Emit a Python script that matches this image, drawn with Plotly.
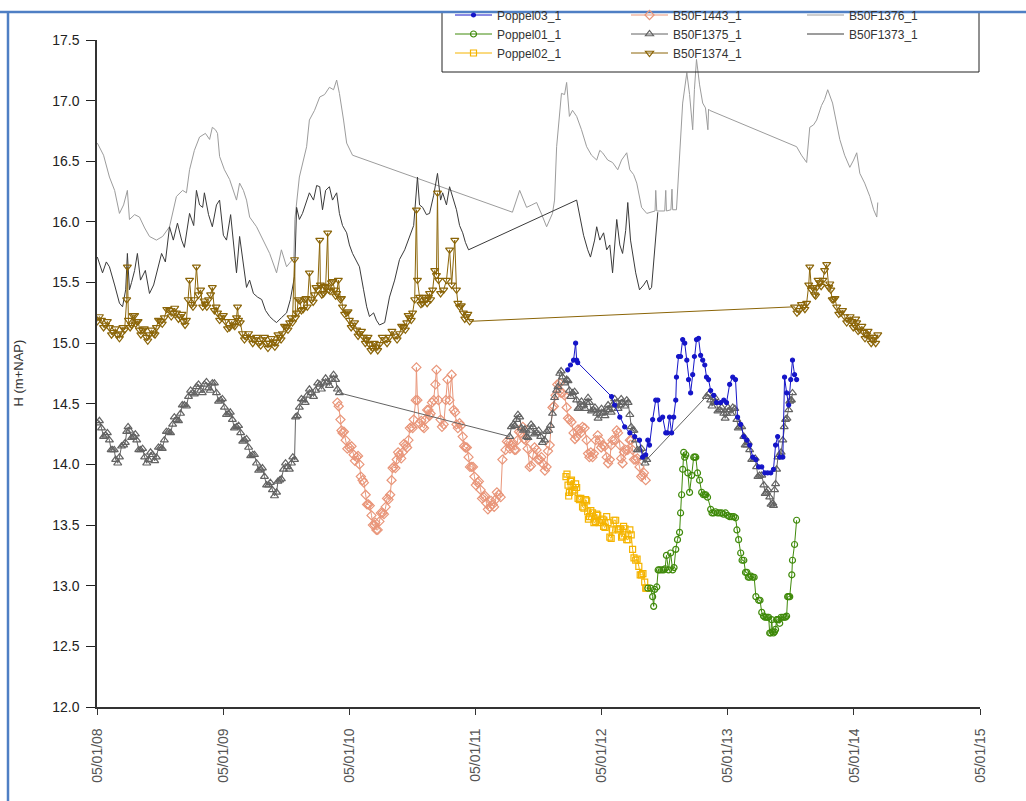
import plotly.graph_objects as go

# ---- groundwater heads H (m+NAP) per monitoring well: (date, head) ----
b50f1376 = [
    ("2008-01-06", 16.65), ("2008-01-24", 16.55), ("2008-02-10", 16.37), ("2008-02-25", 16.26),
    ("2008-03-10", 16.07), ("2008-03-22", 16.14), ("2008-04-02", 16.26), ("2008-04-08", 16.02),
    ("2008-04-23", 16.06), ("2008-05-07", 16.04), ("2008-05-22", 15.95), ("2008-06-05", 15.88),
    ("2008-06-25", 15.85), ("2008-07-13", 15.88), ("2008-08-02", 15.96), ("2008-08-22", 16.21),
    ("2008-09-09", 16.26), ("2008-09-20", 16.24), ("2008-09-29", 16.43), ("2008-10-13", 16.59),
    ("2008-10-28", 16.70), ("2008-11-14", 16.73), ("2008-11-26", 16.68), ("2008-12-04", 16.78),
    ("2008-12-13", 16.76), ("2008-12-19", 16.73), ("2008-12-25", 16.54), ("2009-01-08", 16.43),
    ("2009-01-23", 16.35), ("2009-02-12", 16.18), ("2009-02-21", 16.32), ("2009-03-04", 16.26),
    ("2009-03-13", 16.18), ("2009-03-22", 16.04), ("2009-04-11", 15.96), ("2009-04-29", 15.85),
    ("2009-05-19", 15.74), ("2009-06-08", 15.58), ("2009-06-22", 15.77), ("2009-07-07", 15.63),
    ("2009-07-24", 15.69), ("2009-07-28", 15.69), ("2009-07-31", 16.02), ("2009-08-13", 16.37),
    ("2009-08-25", 16.51), ("2009-09-03", 16.62), ("2009-09-11", 16.84), ("2009-09-26", 16.92),
    ("2009-10-11", 17.03), ("2009-10-25", 17.05), ("2009-11-08", 17.11), ("2009-11-20", 17.09),
    ("2009-11-29", 17.17), ("2009-12-07", 17.06), ("2009-12-19", 16.84), ("2009-12-28", 16.65),
    ("2010-01-14", 16.55),
    ("2011-04-22", 16.08), ("2011-05-13", 16.26), ("2011-05-24", 16.18), ("2011-06-02", 16.12),
    ("2011-06-17", 16.14), ("2011-07-01", 16.16), ("2011-07-16", 16.06), ("2011-07-30", 15.96),
    ("2011-08-16", 16.07), ("2011-08-22", 16.18), ("2011-08-28", 16.62), ("2011-09-06", 16.92),
    ("2011-09-11", 17.06), ("2011-09-20", 17.05), ("2011-09-26", 17.15), ("2011-10-04", 16.87),
    ("2011-10-13", 16.92), ("2011-10-25", 16.87), ("2011-11-08", 16.76), ("2011-11-23", 16.62),
    ("2011-12-07", 16.55), ("2011-12-22", 16.51), ("2011-12-31", 16.59), ("2012-01-08", 16.57),
    ("2012-01-23", 16.51), ("2012-02-06", 16.49), ("2012-02-21", 16.43), ("2012-03-03", 16.51),
    ("2012-03-18", 16.57), ("2012-03-27", 16.43), ("2012-04-07", 16.39), ("2012-04-16", 16.32),
    ("2012-04-24", 16.22), ("2012-04-30", 16.12), ("2012-05-15", 16.07), ("2012-05-29", 16.08),
    ("2012-06-08", 16.09), ("2012-06-10", 16.26), ("2012-06-13", 16.09), ("2012-07-06", 16.09),
    ("2012-07-09", 16.26), ("2012-07-11", 16.09), ("2012-07-24", 16.10), ("2012-07-27", 16.27),
    ("2012-07-29", 16.10), ("2012-08-09", 16.10), ("2012-08-18", 16.57), ("2012-08-27", 16.98),
    ("2012-09-08", 17.23), ("2012-09-16", 17.05), ("2012-09-25", 16.76), ("2012-09-30", 17.09),
    ("2012-10-06", 17.34), ("2012-10-15", 17.13), ("2012-10-24", 16.98), ("2012-11-01", 16.94),
    ("2012-11-08", 16.76), ("2012-11-10", 16.93), ("2012-11-13", 16.92),
    ("2013-07-23", 16.62), ("2013-08-06", 16.55), ("2013-08-21", 16.49), ("2013-08-30", 16.78),
    ("2013-09-10", 16.80), ("2013-09-19", 16.84), ("2013-10-03", 16.96), ("2013-10-12", 17.01),
    ("2013-10-21", 17.09), ("2013-11-04", 16.98), ("2013-11-16", 16.80), ("2013-11-25", 16.68),
    ("2013-12-09", 16.55), ("2013-12-24", 16.45), ("2014-01-04", 16.51), ("2014-01-13", 16.57),
    ("2014-01-22", 16.40), ("2014-02-05", 16.32), ("2014-02-20", 16.21), ("2014-03-03", 16.10),
    ("2014-03-12", 16.04), ("2014-03-15", 16.16),
]

b50f1373 = [
    ("2008-01-06", 15.71), ("2008-01-21", 15.58), ("2008-02-01", 15.67), ("2008-02-10", 15.63),
    ("2008-02-25", 15.48), ("2008-03-10", 15.33), ("2008-03-19", 15.30), ("2008-03-28", 15.44),
    ("2008-04-02", 15.74), ("2008-04-08", 15.44), ("2008-04-14", 15.50), ("2008-04-23", 15.60),
    ("2008-05-01", 15.74), ("2008-05-10", 15.52), ("2008-05-24", 15.60), ("2008-06-05", 15.41),
    ("2008-06-17", 15.48), ("2008-06-25", 15.58), ("2008-07-10", 15.74), ("2008-07-21", 15.67),
    ("2008-08-02", 15.96), ("2008-08-13", 15.85), ("2008-08-25", 15.99), ("2008-09-06", 15.85),
    ("2008-09-14", 15.79), ("2008-09-29", 16.07), ("2008-10-11", 15.97), ("2008-10-19", 16.26),
    ("2008-10-28", 16.14), ("2008-11-06", 16.12), ("2008-11-11", 16.24), ("2008-11-23", 16.06),
    ("2008-12-04", 15.96), ("2008-12-16", 16.14), ("2008-12-25", 16.18), ("2009-01-05", 15.89),
    ("2009-01-14", 15.85), ("2009-01-26", 16.06), ("2009-02-03", 15.81), ("2009-02-12", 15.58),
    ("2009-02-21", 15.88), ("2009-03-04", 15.65), ("2009-03-13", 15.46), ("2009-03-22", 15.52),
    ("2009-04-02", 15.41), ("2009-04-14", 15.38), ("2009-04-26", 15.36), ("2009-05-07", 15.27),
    ("2009-05-19", 15.22), ("2009-05-30", 15.19), ("2009-06-08", 15.17), ("2009-06-22", 15.21),
    ("2009-07-07", 15.25), ("2009-07-18", 15.36), ("2009-07-30", 15.55), ("2009-08-05", 16.12),
    ("2009-08-13", 16.02), ("2009-08-22", 16.07), ("2009-09-03", 16.18), ("2009-09-11", 16.24),
    ("2009-09-23", 16.18), ("2009-10-02", 16.30), ("2009-10-11", 16.29), ("2009-10-19", 16.10),
    ("2009-10-28", 16.26), ("2009-11-08", 16.29), ("2009-11-17", 16.18), ("2009-11-29", 16.24),
    ("2009-12-07", 16.07), ("2009-12-16", 15.97), ("2009-12-28", 15.91), ("2010-01-05", 15.81),
    ("2010-01-14", 15.74), ("2010-01-26", 15.67), ("2010-02-03", 15.63), ("2010-02-15", 15.44),
    ("2010-02-24", 15.30), ("2010-03-04", 15.22), ("2010-03-16", 15.25), ("2010-03-24", 15.19),
    ("2010-04-02", 15.15), ("2010-04-17", 15.17), ("2010-05-01", 15.38), ("2010-05-16", 15.52),
    ("2010-05-30", 15.69), ("2010-06-14", 15.77), ("2010-06-28", 15.88), ("2010-07-10", 15.97),
    ("2010-07-21", 16.37), ("2010-07-27", 16.14), ("2010-08-05", 16.12), ("2010-08-16", 16.06),
    ("2010-08-25", 16.07), ("2010-09-06", 16.22), ("2010-09-17", 16.40), ("2010-09-26", 16.18),
    ("2010-10-02", 16.24), ("2010-10-13", 16.14), ("2010-10-22", 16.29), ("2010-11-03", 16.18),
    ("2010-11-11", 16.10), ("2010-11-20", 15.97), ("2010-11-29", 15.91), ("2010-12-07", 15.83),
    ("2010-12-16", 15.77),
    ("2011-10-25", 16.18), ("2011-11-02", 16.07), ("2011-11-14", 15.89), ("2011-11-26", 15.77),
    ("2011-12-04", 15.71), ("2011-12-16", 15.85), ("2011-12-22", 15.96), ("2011-12-31", 15.85),
    ("2012-01-11", 15.91), ("2012-01-20", 15.77), ("2012-01-29", 15.81), ("2012-02-06", 15.58),
    ("2012-02-12", 15.77), ("2012-02-18", 16.02), ("2012-02-27", 15.81), ("2012-03-06", 15.74),
    ("2012-03-15", 15.93), ("2012-03-21", 16.16), ("2012-03-29", 15.85), ("2012-04-04", 15.74),
    ("2012-04-13", 15.58), ("2012-04-24", 15.44), ("2012-05-06", 15.48), ("2012-05-15", 15.52),
    ("2012-05-23", 15.44), ("2012-05-29", 15.46), ("2012-06-07", 15.77), ("2012-06-13", 15.91),
    ("2012-06-16", 16.08),
]

b50f1374 = [
    ("2008-01-06", 15.18), ("2008-01-18", 15.19), ("2008-01-30", 15.15), ("2008-02-10", 15.13),
    ("2008-02-22", 15.09), ("2008-03-04", 15.07), ("2008-03-16", 15.08), ("2008-03-25", 15.11),
    ("2008-03-31", 15.36), ("2008-04-02", 15.63), ("2008-04-05", 15.19), ("2008-04-14", 15.15),
    ("2008-04-23", 15.23), ("2008-04-29", 15.18), ("2008-05-07", 15.11), ("2008-05-16", 15.11),
    ("2008-05-27", 15.05), ("2008-06-05", 15.07), ("2008-06-17", 15.08), ("2008-06-25", 15.13),
    ("2008-07-07", 15.18), ("2008-07-18", 15.21), ("2008-08-02", 15.27), ("2008-08-13", 15.25),
    ("2008-08-22", 15.25), ("2008-09-03", 15.22), ("2008-09-11", 15.18), ("2008-09-20", 15.19),
    ("2008-09-25", 15.36), ("2008-09-29", 15.52), ("2008-10-05", 15.32), ("2008-10-13", 15.36),
    ("2008-10-19", 15.63), ("2008-10-25", 15.40), ("2008-10-31", 15.44), ("2008-11-06", 15.30),
    ("2008-11-14", 15.32), ("2008-11-23", 15.36), ("2008-11-29", 15.40), ("2008-12-04", 15.46),
    ("2008-12-10", 15.27), ("2008-12-19", 15.25), ("2008-12-31", 15.21), ("2009-01-11", 15.18),
    ("2009-01-23", 15.13), ("2009-02-03", 15.15), ("2009-02-12", 15.21), ("2009-02-15", 15.30),
    ("2009-02-18", 15.19), ("2009-03-01", 15.08), ("2009-03-13", 15.05), ("2009-03-25", 15.04),
    ("2009-04-05", 15.03), ("2009-04-17", 15.00), ("2009-04-29", 15.03), ("2009-05-10", 15.00),
    ("2009-05-19", 15.00), ("2009-05-30", 15.01), ("2009-06-08", 15.01), ("2009-06-17", 15.05),
    ("2009-06-25", 15.08), ("2009-07-07", 15.13), ("2009-07-16", 15.17), ("2009-07-24", 15.17),
    ("2009-07-30", 15.69), ("2009-08-02", 15.21), ("2009-08-10", 15.36), ("2009-08-19", 15.27),
    ("2009-08-28", 15.36), ("2009-09-05", 15.30), ("2009-09-11", 15.58), ("2009-09-17", 15.36),
    ("2009-09-26", 15.40), ("2009-10-05", 15.44), ("2009-10-11", 15.85), ("2009-10-13", 15.48),
    ("2009-10-22", 15.41), ("2009-10-28", 15.46), ("2009-11-03", 15.91), ("2009-11-06", 15.44),
    ("2009-11-14", 15.50), ("2009-11-23", 15.44), ("2009-11-29", 15.41), ("2009-12-04", 15.52),
    ("2009-12-10", 15.36), ("2009-12-16", 15.30), ("2009-12-28", 15.25), ("2010-01-05", 15.19),
    ("2010-01-14", 15.15), ("2010-01-26", 15.11), ("2010-02-03", 15.08), ("2010-02-15", 15.05),
    ("2010-02-24", 15.03), ("2010-03-04", 14.99), ("2010-03-13", 14.96), ("2010-03-24", 14.97),
    ("2010-04-02", 14.99), ("2010-04-17", 15.03), ("2010-05-01", 15.05), ("2010-05-16", 15.06),
    ("2010-05-30", 15.08), ("2010-06-11", 15.13), ("2010-06-20", 15.17), ("2010-06-28", 15.21),
    ("2010-07-07", 15.25), ("2010-07-13", 15.36), ("2010-07-18", 16.10), ("2010-07-21", 15.52),
    ("2010-07-27", 15.38), ("2010-08-05", 15.33), ("2010-08-13", 15.36), ("2010-08-22", 15.38),
    ("2010-08-28", 15.36), ("2010-09-03", 15.44), ("2010-09-09", 15.60), ("2010-09-14", 15.56),
    ("2010-09-17", 16.24), ("2010-09-20", 15.52), ("2010-09-26", 15.41), ("2010-10-05", 15.44),
    ("2010-10-13", 15.52), ("2010-10-22", 15.77), ("2010-10-28", 15.48), ("2010-11-06", 15.85),
    ("2010-11-11", 15.44), ("2010-11-20", 15.30), ("2010-12-01", 15.25), ("2010-12-10", 15.22),
    ("2010-12-19", 15.18),
    ("2013-07-17", 15.30), ("2013-07-31", 15.27), ("2013-08-12", 15.30), ("2013-08-21", 15.33),
    ("2013-08-27", 15.48), ("2013-08-30", 15.63), ("2013-09-04", 15.44), ("2013-09-13", 15.40),
    ("2013-09-19", 15.46), ("2013-09-28", 15.50), ("2013-10-07", 15.52), ("2013-10-12", 15.60),
    ("2013-10-18", 15.65), ("2013-10-24", 15.46), ("2013-10-30", 15.44), ("2013-11-07", 15.36),
    ("2013-11-16", 15.30), ("2013-11-28", 15.25), ("2013-12-09", 15.22), ("2013-12-21", 15.19),
    ("2013-12-29", 15.18), ("2014-01-07", 15.15), ("2014-01-13", 15.17), ("2014-01-22", 15.11),
    ("2014-02-02", 15.09), ("2014-02-11", 15.07), ("2014-02-20", 15.05), ("2014-02-28", 15.03),
    ("2014-03-09", 15.00), ("2014-03-15", 15.07),
]
# intermediate readings (daily scatter around the weekly values)
b50f1374_between = [
    ("2008-01-12", 15.22), ("2008-01-24", 15.13), ("2008-02-04", 15.18), ("2008-02-16", 15.07),
    ("2008-02-27", 15.12), ("2008-03-10", 15.04), ("2008-03-20", 15.13), ("2008-04-10", 15.13),
    ("2008-04-18", 15.23), ("2008-04-26", 15.16), ("2008-05-03", 15.18), ("2008-05-11", 15.07),
    ("2008-05-21", 15.12), ("2008-05-31", 15.02), ("2008-06-11", 15.11), ("2008-06-21", 15.07),
    ("2008-07-01", 15.19), ("2008-07-12", 15.16), ("2008-07-25", 15.28), ("2008-08-07", 15.22),
    ("2008-08-17", 15.29), ("2008-08-28", 15.20), ("2008-09-07", 15.24), ("2008-09-16", 15.15),
    ("2008-10-09", 15.30), ("2008-11-10", 15.35), ("2008-11-18", 15.30), ("2008-12-15", 15.30),
    ("2008-12-25", 15.19), ("2009-01-05", 15.23), ("2009-01-17", 15.12), ("2009-01-29", 15.18),
    ("2009-02-07", 15.14), ("2009-02-23", 15.17), ("2009-03-07", 15.03), ("2009-03-19", 15.08),
    ("2009-03-31", 15.00), ("2009-04-11", 15.05), ("2009-04-23", 14.98), ("2009-05-04", 15.05),
    ("2009-05-14", 14.96), ("2009-05-24", 15.04), ("2009-06-03", 14.97), ("2009-06-12", 15.07),
    ("2009-06-21", 15.03), ("2009-07-01", 15.14), ("2009-07-11", 15.11), ("2009-07-20", 15.21),
    ("2009-08-06", 15.25), ("2009-08-15", 15.35), ("2009-08-24", 15.28), ("2009-09-01", 15.37),
    ("2009-09-22", 15.34), ("2009-09-30", 15.46), ("2009-10-17", 15.40), ("2009-10-25", 15.47),
    ("2009-11-10", 15.43), ("2009-11-18", 15.51), ("2009-11-26", 15.39), ("2009-12-13", 15.37),
    ("2009-12-22", 15.24), ("2010-01-01", 15.26), ("2010-01-10", 15.13), ("2010-01-20", 15.17),
    ("2010-01-30", 15.06), ("2010-02-09", 15.10), ("2010-02-20", 15.00), ("2010-02-28", 15.05),
    ("2010-03-08", 14.94), ("2010-03-18", 15.00), ("2010-03-28", 14.94), ("2010-04-10", 15.05),
    ("2010-04-24", 15.00), ("2010-05-08", 15.10), ("2010-05-23", 15.03), ("2010-06-05", 15.14),
    ("2010-06-16", 15.11), ("2010-06-24", 15.23), ("2010-07-03", 15.19), ("2010-07-31", 15.32),
    ("2010-08-09", 15.38), ("2010-08-18", 15.33), ("2010-08-25", 15.41), ("2010-11-15", 15.33),
    ("2010-11-25", 15.31), ("2010-12-05", 15.20), ("2010-12-14", 15.24),
    ("2013-07-24", 15.25), ("2013-08-06", 15.32), ("2013-08-16", 15.28), ("2013-09-08", 15.46),
    ("2013-09-16", 15.39), ("2013-09-23", 15.52), ("2013-10-02", 15.47), ("2013-10-27", 15.49),
    ("2013-11-03", 15.36), ("2013-11-11", 15.37), ("2013-11-22", 15.24), ("2013-12-03", 15.27),
    ("2013-12-15", 15.17), ("2013-12-25", 15.22), ("2014-01-03", 15.13), ("2014-01-10", 15.20),
    ("2014-01-17", 15.10), ("2014-01-28", 15.14), ("2014-02-06", 15.04), ("2014-02-15", 15.10),
    ("2014-02-24", 15.00), ("2014-03-04", 15.05),
]

b50f1375 = [
    ("2008-01-06", 14.34), ("2008-01-18", 14.30), ("2008-01-30", 14.24), ("2008-02-10", 14.20),
    ("2008-02-19", 14.12), ("2008-02-28", 14.04), ("2008-03-10", 14.06), ("2008-03-22", 14.16),
    ("2008-03-31", 14.27), ("2008-04-08", 14.28), ("2008-04-20", 14.23), ("2008-04-29", 14.20),
    ("2008-05-10", 14.12), ("2008-05-22", 14.06), ("2008-06-02", 14.04), ("2008-06-14", 14.08),
    ("2008-06-25", 14.06), ("2008-07-07", 14.14), ("2008-07-18", 14.20), ("2008-07-30", 14.27),
    ("2008-08-11", 14.33), ("2008-08-22", 14.37), ("2008-09-03", 14.42), ("2008-09-14", 14.49),
    ("2008-09-26", 14.56), ("2008-10-08", 14.59), ("2008-10-19", 14.64), ("2008-10-31", 14.61),
    ("2008-11-11", 14.66), ("2008-11-23", 14.63), ("2008-12-04", 14.67), ("2008-12-16", 14.59),
    ("2008-12-28", 14.53), ("2009-01-08", 14.47), ("2009-01-20", 14.42), ("2009-01-31", 14.37),
    ("2009-02-12", 14.31), ("2009-02-24", 14.26), ("2009-03-07", 14.20), ("2009-03-19", 14.14),
    ("2009-03-31", 14.08), ("2009-04-11", 14.01), ("2009-04-23", 13.96), ("2009-05-04", 13.90),
    ("2009-05-16", 13.83), ("2009-05-27", 13.79), ("2009-06-08", 13.77), ("2009-06-17", 13.87),
    ("2009-06-28", 13.96), ("2009-07-10", 13.98), ("2009-07-21", 14.01), ("2009-07-30", 14.04),
    ("2009-08-02", 14.39), ("2009-08-13", 14.47), ("2009-08-25", 14.53), ("2009-09-05", 14.57),
    ("2009-09-17", 14.59), ("2009-09-29", 14.61), ("2009-10-11", 14.66), ("2009-10-22", 14.67),
    ("2009-11-03", 14.68), ("2009-11-14", 14.70), ("2009-11-26", 14.70), ("2009-12-07", 14.59),
    ("2011-04-14", 14.23), ("2011-04-25", 14.33), ("2011-05-04", 14.37), ("2011-05-13", 14.39),
    ("2011-05-24", 14.28), ("2011-06-02", 14.23), ("2011-06-11", 14.28), ("2011-06-20", 14.31),
    ("2011-07-01", 14.26), ("2011-07-13", 14.23), ("2011-07-24", 14.20), ("2011-08-05", 14.28),
    ("2011-08-16", 14.42), ("2011-08-28", 14.61), ("2011-09-06", 14.75), ("2011-09-14", 14.72),
    ("2011-09-26", 14.70), ("2011-10-04", 14.61), ("2011-10-13", 14.59), ("2011-10-25", 14.53),
    ("2011-11-02", 14.47), ("2011-11-14", 14.49), ("2011-11-23", 14.51), ("2011-12-01", 14.51),
    ("2011-12-13", 14.45), ("2011-12-22", 14.42), ("2011-12-31", 14.42), ("2012-01-11", 14.43),
    ("2012-01-20", 14.45), ("2012-01-29", 14.45), ("2012-02-06", 14.49), ("2012-02-18", 14.51),
    ("2012-02-27", 14.49), ("2012-03-06", 14.51), ("2012-03-18", 14.53), ("2012-03-27", 14.41),
    ("2012-04-04", 14.28), ("2012-04-13", 14.20), ("2012-04-24", 14.12), ("2012-05-06", 14.06),
    ("2012-05-15", 14.04),
    ("2012-11-04", 14.56), ("2012-11-16", 14.53), ("2012-11-25", 14.51), ("2012-12-03", 14.51),
    ("2012-12-12", 14.45), ("2012-12-24", 14.42), ("2013-01-01", 14.42), ("2013-01-10", 14.45),
    ("2013-01-19", 14.47), ("2013-01-31", 14.37), ("2013-02-08", 14.31), ("2013-02-20", 14.23),
    ("2013-03-01", 14.16), ("2013-03-09", 14.12), ("2013-03-21", 14.04), ("2013-03-29", 13.98),
    ("2013-04-07", 13.91), ("2013-04-19", 13.83), ("2013-04-27", 13.77), ("2013-05-06", 13.73),
    ("2013-05-15", 13.68), ("2013-05-20", 13.79), ("2013-05-26", 13.96), ("2013-06-04", 14.08),
    ("2013-06-13", 14.20), ("2013-06-21", 14.37), ("2013-06-30", 14.45), ("2013-07-06", 14.53),
    ("2013-07-11", 14.59),
]
b50f1375_between = [
    ("2008-01-12", 14.36), ("2008-01-24", 14.23), ("2008-02-04", 14.26), ("2008-02-15", 14.12),
    ("2008-02-24", 14.12), ("2008-03-05", 14.01), ("2008-03-16", 14.15), ("2008-03-27", 14.18),
    ("2008-04-04", 14.31), ("2008-04-14", 14.22), ("2008-04-25", 14.25), ("2008-05-05", 14.12),
    ("2008-05-16", 14.13), ("2008-05-28", 14.01), ("2008-06-08", 14.10), ("2008-06-20", 14.03),
    ("2008-07-01", 14.14), ("2008-07-12", 14.13), ("2008-07-24", 14.27), ("2008-08-05", 14.26),
    ("2008-08-16", 14.39), ("2008-08-28", 14.36), ("2008-09-08", 14.49), ("2008-09-20", 14.48),
    ("2008-10-02", 14.61), ("2008-10-13", 14.58), ("2008-10-25", 14.66), ("2008-11-05", 14.59),
    ("2008-11-17", 14.68), ("2008-11-28", 14.61), ("2008-12-10", 14.67), ("2008-12-22", 14.52),
    ("2009-01-02", 14.54), ("2009-01-14", 14.41), ("2009-01-25", 14.43), ("2009-02-06", 14.30),
    ("2009-02-18", 14.32), ("2009-03-02", 14.19), ("2009-03-13", 14.21), ("2009-03-25", 14.07),
    ("2009-04-05", 14.08), ("2009-04-17", 13.95), ("2009-04-28", 13.97), ("2009-05-10", 13.83),
    ("2009-05-21", 13.85), ("2009-06-02", 13.74), ("2009-06-12", 13.86), ("2009-06-22", 13.88),
    ("2009-07-04", 14.01), ("2009-07-15", 13.96), ("2009-07-25", 14.06), ("2009-08-07", 14.40),
    ("2009-08-19", 14.54), ("2009-08-30", 14.51), ("2009-09-11", 14.62), ("2009-09-23", 14.56),
    ("2009-10-05", 14.67), ("2009-10-16", 14.62), ("2009-10-28", 14.71), ("2009-11-08", 14.65),
    ("2009-11-20", 14.74), ("2009-12-01", 14.62),
    ("2011-04-19", 14.31), ("2011-04-29", 14.32), ("2011-05-08", 14.41), ("2011-05-18", 14.30),
    ("2011-05-28", 14.29), ("2011-06-06", 14.22), ("2011-06-15", 14.33), ("2011-06-25", 14.25),
    ("2011-07-07", 14.28), ("2011-07-18", 14.18), ("2011-07-30", 14.27), ("2011-08-10", 14.32),
    ("2011-08-22", 14.55), ("2011-09-01", 14.64), ("2011-09-10", 14.77), ("2011-09-20", 14.67),
    ("2011-09-30", 14.69), ("2011-10-08", 14.56), ("2011-10-19", 14.60), ("2011-10-29", 14.46),
    ("2011-11-08", 14.52), ("2011-11-18", 14.46), ("2011-11-27", 14.55), ("2011-12-07", 14.44),
    ("2011-12-17", 14.47), ("2011-12-26", 14.38), ("2012-01-05", 14.46), ("2012-01-15", 14.40),
    ("2012-01-24", 14.49), ("2012-02-02", 14.43), ("2012-02-12", 14.54), ("2012-02-22", 14.46),
    ("2012-03-02", 14.54), ("2012-03-12", 14.48), ("2012-03-22", 14.51), ("2012-03-31", 14.31),
    ("2012-04-08", 14.28), ("2012-04-18", 14.12), ("2012-04-30", 14.13), ("2012-05-10", 14.01),
    ("2012-11-10", 14.58), ("2012-11-20", 14.48), ("2012-11-29", 14.55), ("2012-12-07", 14.44),
    ("2012-12-18", 14.47), ("2012-12-28", 14.38), ("2013-01-05", 14.47), ("2013-01-14", 14.42),
    ("2013-01-25", 14.46), ("2013-02-04", 14.30), ("2013-02-14", 14.31), ("2013-02-24", 14.16),
    ("2013-03-05", 14.18), ("2013-03-15", 14.04), ("2013-03-25", 14.05), ("2013-04-02", 13.90),
    ("2013-04-13", 13.91), ("2013-04-23", 13.76), ("2013-05-01", 13.79), ("2013-05-10", 13.67),
    ("2013-05-17", 13.66), ("2013-05-23", 13.84), ("2013-05-30", 14.06), ("2013-06-08", 14.10),
    ("2013-06-17", 14.31), ("2013-06-25", 14.38), ("2013-07-03", 14.52), ("2013-07-08", 14.53),
]

b50f1443 = [
    ("2009-12-01", 14.51), ("2009-12-10", 14.37), ("2009-12-16", 14.26), ("2009-12-25", 14.20),
    ("2010-01-05", 14.14), ("2010-01-17", 14.08), ("2010-01-26", 14.06), ("2010-02-03", 14.00),
    ("2010-02-12", 13.87), ("2010-02-21", 13.75), ("2010-03-01", 13.67), ("2010-03-10", 13.58),
    ("2010-03-19", 13.50), ("2010-03-24", 13.46), ("2010-04-02", 13.53), ("2010-04-11", 13.60),
    ("2010-04-20", 13.65), ("2010-04-28", 13.71), ("2010-05-07", 13.87), ("2010-05-13", 13.98),
    ("2010-05-22", 14.04), ("2010-05-30", 14.08), ("2010-06-08", 14.10), ("2010-06-17", 14.16),
    ("2010-06-25", 14.20), ("2010-07-04", 14.31), ("2010-07-10", 14.37), ("2010-07-16", 14.53),
    ("2010-07-18", 14.80), ("2010-07-21", 14.53), ("2010-07-27", 14.34), ("2010-08-05", 14.31),
    ("2010-08-13", 14.37), ("2010-08-22", 14.45), ("2010-08-28", 14.42), ("2010-09-06", 14.53),
    ("2010-09-11", 14.66), ("2010-09-14", 14.78), ("2010-09-20", 14.53), ("2010-09-26", 14.37),
    ("2010-10-05", 14.33), ("2010-10-11", 14.53), ("2010-10-16", 14.70), ("2010-10-22", 14.53),
    ("2010-10-28", 14.74), ("2010-11-03", 14.45), ("2010-11-11", 14.33), ("2010-11-20", 14.34),
    ("2010-11-29", 14.23), ("2010-12-07", 14.14), ("2010-12-16", 14.06), ("2010-12-25", 13.98),
    ("2011-01-02", 13.90), ("2011-01-11", 13.85), ("2011-01-20", 13.79), ("2011-01-29", 13.73),
    ("2011-02-06", 13.68), ("2011-02-15", 13.65), ("2011-02-24", 13.67), ("2011-03-04", 13.71),
    ("2011-03-13", 13.75), ("2011-03-19", 13.73), ("2011-03-24", 14.04), ("2011-04-02", 14.12),
    ("2011-04-11", 14.18), ("2011-04-19", 14.16), ("2011-04-28", 14.12), ("2011-05-07", 14.20),
    ("2011-05-16", 14.26), ("2011-05-22", 14.31), ("2011-05-30", 14.20), ("2011-06-11", 13.98),
    ("2011-06-20", 14.08), ("2011-07-01", 14.12), ("2011-07-10", 14.04), ("2011-07-21", 14.00),
    ("2011-07-30", 13.98), ("2011-08-08", 14.16), ("2011-08-16", 14.47), ("2011-08-25", 14.57),
    ("2011-09-06", 14.67), ("2011-09-14", 14.59), ("2011-09-26", 14.47), ("2011-10-04", 14.37),
    ("2011-10-16", 14.26), ("2011-10-25", 14.23), ("2011-11-02", 14.28), ("2011-11-11", 14.31),
    ("2011-11-23", 14.20), ("2011-12-01", 14.06), ("2011-12-10", 14.06), ("2011-12-19", 14.20),
    ("2011-12-31", 14.20), ("2012-01-08", 14.16), ("2012-01-20", 14.06), ("2012-01-29", 14.04),
    ("2012-02-06", 14.20), ("2012-02-18", 14.28), ("2012-02-27", 14.16), ("2012-03-06", 14.01),
    ("2012-03-15", 14.12), ("2012-03-27", 14.20), ("2012-04-04", 14.12), ("2012-04-13", 14.04),
    ("2012-04-24", 13.98), ("2012-05-03", 13.91), ("2012-05-12", 13.87),
]
b50f1443_between = [
    ("2009-12-05", 14.48), ("2009-12-13", 14.28), ("2009-12-20", 14.27), ("2009-12-30", 14.13),
    ("2010-01-11", 14.15), ("2010-01-21", 14.03), ("2010-01-30", 14.07), ("2010-02-07", 13.90),
    ("2010-02-16", 13.85), ("2010-02-25", 13.67), ("2010-03-05", 13.66), ("2010-03-14", 13.50),
    ("2010-03-21", 13.52), ("2010-03-28", 13.46), ("2010-04-06", 13.60), ("2010-04-15", 13.59),
    ("2010-04-24", 13.72), ("2010-05-03", 13.75), ("2010-05-10", 13.97), ("2010-05-18", 13.97),
    ("2010-05-26", 14.10), ("2010-06-04", 14.05), ("2010-06-12", 14.17), ("2010-06-21", 14.14),
    ("2010-06-29", 14.30), ("2010-07-07", 14.30), ("2010-08-01", 14.36), ("2010-08-09", 14.30),
    ("2010-08-18", 14.45), ("2010-08-25", 14.40), ("2010-09-01", 14.51), ("2010-09-30", 14.31),
    ("2010-11-07", 14.43), ("2010-11-15", 14.30), ("2010-11-24", 14.32), ("2010-12-03", 14.15),
    ("2010-12-11", 14.14), ("2010-12-20", 13.98), ("2010-12-29", 13.98), ("2011-01-06", 13.83),
    ("2011-01-15", 13.86), ("2011-01-24", 13.72), ("2011-02-02", 13.74), ("2011-02-10", 13.63),
    ("2011-02-19", 13.70), ("2011-02-28", 13.65), ("2011-03-08", 13.77), ("2011-04-06", 14.19),
    ("2011-04-15", 14.13), ("2011-04-23", 14.18), ("2011-05-02", 14.12), ("2011-05-11", 14.27),
    ("2011-05-26", 14.21), ("2011-06-05", 14.13), ("2011-06-15", 13.99), ("2011-06-25", 14.14),
    ("2011-07-05", 14.04), ("2011-07-15", 14.06), ("2011-07-25", 13.95), ("2011-08-03", 14.11),
    ("2011-08-20", 14.48), ("2011-08-30", 14.66), ("2011-09-10", 14.59), ("2011-09-20", 14.57),
    ("2011-09-30", 14.38), ("2011-10-10", 14.35), ("2011-10-20", 14.21), ("2011-10-29", 14.29),
    ("2011-11-06", 14.26), ("2011-11-17", 14.30), ("2011-11-27", 14.09), ("2011-12-05", 14.10),
    ("2011-12-14", 14.09), ("2011-12-25", 14.24), ("2012-01-04", 14.14), ("2012-01-14", 14.15),
    ("2012-01-24", 14.01), ("2012-02-02", 14.16), ("2012-02-12", 14.20), ("2012-02-22", 14.26),
    ("2012-03-02", 14.05), ("2012-03-10", 14.10), ("2012-03-21", 14.12), ("2012-03-31", 14.20),
    ("2012-04-08", 14.04), ("2012-04-18", 14.05), ("2012-04-29", 13.90), ("2012-05-07", 13.93),
]

poppel02 = [
    ("2011-09-24", 13.90), ("2011-09-30", 13.83), ("2011-10-04", 13.77), ("2011-10-10", 13.87),
    ("2011-10-19", 13.79), ("2011-10-25", 13.81), ("2011-11-02", 13.71), ("2011-11-11", 13.65),
    ("2011-11-20", 13.71), ("2011-11-26", 13.61), ("2011-12-01", 13.57), ("2011-12-10", 13.60),
    ("2011-12-19", 13.53), ("2011-12-25", 13.58), ("2012-01-03", 13.54), ("2012-01-11", 13.49),
    ("2012-01-20", 13.57), ("2012-01-29", 13.40), ("2012-02-06", 13.46), ("2012-02-15", 13.54),
    ("2012-02-24", 13.46), ("2012-03-03", 13.40), ("2012-03-09", 13.49), ("2012-03-18", 13.38),
    ("2012-03-27", 13.46), ("2012-04-04", 13.30), ("2012-04-13", 13.21), ("2012-04-22", 13.16),
    ("2012-04-30", 13.09), ("2012-05-09", 13.03), ("2012-05-15", 12.98),
]
poppel02_between = [
    ("2011-09-27", 13.92), ("2011-10-02", 13.74), ("2011-10-07", 13.86), ("2011-10-14", 13.78),
    ("2011-10-22", 13.84), ("2011-10-29", 13.72), ("2011-11-06", 13.72), ("2011-11-15", 13.64),
    ("2011-11-23", 13.70), ("2011-11-28", 13.55), ("2011-12-05", 13.62), ("2011-12-14", 13.52),
    ("2011-12-22", 13.59), ("2011-12-29", 13.52), ("2012-01-07", 13.55), ("2012-01-15", 13.48),
    ("2012-01-24", 13.52), ("2012-02-02", 13.39), ("2012-02-10", 13.54), ("2012-02-19", 13.47),
    ("2012-02-28", 13.47), ("2012-03-06", 13.41), ("2012-03-13", 13.47), ("2012-03-22", 13.38),
    ("2012-03-31", 13.42), ("2012-04-08", 13.23), ("2012-04-17", 13.22), ("2012-04-26", 13.09),
    ("2012-05-04", 13.10), ("2012-05-12", 12.98),
]

poppel01 = [
    ("2012-05-18", 12.98), ("2012-05-26", 12.98), ("2012-06-01", 12.91), ("2012-06-04", 12.83),
    ("2012-06-07", 12.97), ("2012-06-13", 12.99), ("2012-06-21", 13.13), ("2012-07-03", 13.13),
    ("2012-07-11", 13.25), ("2012-07-17", 13.13), ("2012-07-23", 13.27), ("2012-07-29", 13.13),
    ("2012-08-07", 13.30), ("2012-08-12", 13.38), ("2012-08-18", 13.44), ("2012-08-21", 13.60),
    ("2012-08-24", 13.75), ("2012-08-27", 13.96), ("2012-08-30", 14.10), ("2012-09-05", 14.08),
    ("2012-09-11", 13.93), ("2012-09-16", 13.77), ("2012-09-22", 13.91), ("2012-09-28", 14.06),
    ("2012-10-04", 14.06), ("2012-10-09", 13.93), ("2012-10-15", 13.87), ("2012-10-21", 13.77),
    ("2012-10-30", 13.75), ("2012-11-07", 13.73), ("2012-11-16", 13.63), ("2012-11-25", 13.60),
    ("2012-12-06", 13.60), ("2012-12-18", 13.60), ("2012-12-29", 13.60), ("2013-01-10", 13.57),
    ("2013-01-22", 13.57), ("2013-01-31", 13.46), ("2013-02-05", 13.38), ("2013-02-11", 13.27),
    ("2013-02-20", 13.21), ("2013-03-01", 13.11), ("2013-03-09", 13.07), ("2013-03-18", 13.07),
    ("2013-03-27", 12.91), ("2013-04-04", 12.88), ("2013-04-13", 12.78), ("2013-04-22", 12.74),
    ("2013-04-30", 12.74), ("2013-05-06", 12.61), ("2013-05-12", 12.72), ("2013-05-17", 12.61),
    ("2013-05-23", 12.64), ("2013-05-29", 12.72), ("2013-06-04", 12.69), ("2013-06-13", 12.74),
    ("2013-06-21", 12.74), ("2013-06-27", 12.91), ("2013-07-03", 12.91), ("2013-07-09", 13.09),
    ("2013-07-11", 13.21), ("2013-07-17", 13.34), ("2013-07-23", 13.54),
]
poppel01_between = [
    ("2012-06-17", 13.13), ("2012-06-27", 13.13), ("2012-07-07", 13.14), ("2012-08-02", 13.15),
    ("2012-09-02", 14.06), ("2012-10-01", 14.06), ("2012-10-26", 13.75), ("2012-11-02", 13.75),
    ("2012-11-20", 13.60), ("2012-11-30", 13.61), ("2012-12-12", 13.60), ("2012-12-23", 13.59),
    ("2013-01-04", 13.58), ("2013-01-16", 13.57), ("2013-01-27", 13.56), ("2013-02-15", 13.21),
    ("2013-02-25", 13.11), ("2013-03-05", 13.07), ("2013-03-13", 13.08), ("2013-03-22", 13.07),
    ("2013-04-08", 12.88), ("2013-04-18", 12.75), ("2013-04-26", 12.74), ("2013-05-03", 12.74),
    ("2013-05-09", 12.61), ("2013-05-14", 12.62), ("2013-05-20", 12.62), ("2013-05-26", 12.72),
    ("2013-06-01", 12.72), ("2013-06-08", 12.74), ("2013-06-17", 12.74), ("2013-06-24", 12.75),
    ("2013-06-30", 12.91),
]

poppel03 = [
    ("2011-09-29", 14.78), ("2011-10-07", 14.82), ("2011-10-16", 14.86), ("2011-10-22", 15.00),
    ("2011-10-25", 14.86), ("2011-10-28", 14.84), ("2012-02-03", 14.56), ("2012-02-12", 14.49),
    ("2012-02-27", 14.39), ("2012-03-12", 14.31), ("2012-03-27", 14.26), ("2012-04-10", 14.23),
    ("2012-04-24", 14.20), ("2012-05-03", 14.06), ("2012-05-12", 14.08), ("2012-05-18", 14.20),
    ("2012-05-23", 14.16), ("2012-06-01", 14.37), ("2012-06-10", 14.53), ("2012-06-16", 14.53),
    ("2012-06-21", 14.37), ("2012-06-30", 14.39), ("2012-07-09", 14.26), ("2012-07-14", 14.26),
    ("2012-07-20", 14.39), ("2012-07-26", 14.26), ("2012-08-01", 14.39), ("2012-08-07", 14.53),
    ("2012-08-09", 14.72), ("2012-08-15", 14.89), ("2012-08-21", 14.89), ("2012-08-27", 15.03),
    ("2012-09-02", 15.00), ("2012-09-08", 14.86), ("2012-09-13", 14.70), ("2012-09-19", 14.59),
    ("2012-09-25", 14.74), ("2012-09-30", 14.89), ("2012-10-06", 15.03), ("2012-10-12", 15.04),
    ("2012-10-18", 14.90), ("2012-10-24", 14.86), ("2012-10-30", 14.82), ("2012-11-04", 14.72),
    ("2012-11-10", 14.70), ("2012-11-16", 14.61), ("2012-11-25", 14.57), ("2012-12-03", 14.51),
    ("2012-12-15", 14.51), ("2012-12-24", 14.53), ("2013-01-01", 14.51), ("2013-01-10", 14.66),
    ("2013-01-19", 14.72), ("2013-01-27", 14.70), ("2013-02-02", 14.39), ("2013-02-11", 14.33),
    ("2013-02-20", 14.23), ("2013-03-01", 14.20), ("2013-03-09", 14.16), ("2013-03-18", 14.06),
    ("2013-03-27", 14.04), ("2013-04-04", 13.98), ("2013-04-13", 13.98), ("2013-04-22", 13.93),
    ("2013-04-30", 13.93), ("2013-05-09", 13.93), ("2013-05-17", 13.96), ("2013-05-23", 14.16),
    ("2013-05-29", 14.23), ("2013-06-04", 14.06), ("2013-06-13", 14.06), ("2013-06-18", 14.72),
    ("2013-06-24", 14.59), ("2013-06-30", 14.49), ("2013-07-06", 14.70), ("2013-07-11", 14.86),
    ("2013-07-17", 14.74), ("2013-07-23", 14.70),
]

# ---- axis ticks ----
x_tick_dates = ["2008-01-05", "2009-01-05", "2010-01-05", "2011-01-05",
                "2012-01-05", "2013-01-05", "2014-01-05", "2015-01-05"]
y_ticks = [12.0, 12.5, 13.0, 13.5, 14.0, 14.5, 15.0, 15.5, 16.0, 16.5, 17.0, 17.5]

FONT = "Liberation Sans, Arial, sans-serif"

# name, readings, colour, marker symbol (None = line only), marker size, legend column, legend rank
series = [
    ("B50F1376_1", b50f1376, "#9c9c9c", None, 0, "c3", 7),
    ("B50F1373_1", b50f1373, "#3a3a3a", None, 0, "c3", 8),
    ("B50F1443_1", b50f1443 + b50f1443_between, "#e9967a", "diamond-open", 7, "c2", 4),
    ("B50F1375_1", b50f1375 + b50f1375_between, "#636363", "triangle-up-open", 7, "c2", 5),
    ("B50F1374_1", b50f1374 + b50f1374_between, "#8b6508", "triangle-down-open", 7, "c2", 6),
    ("Poppel02_1", poppel02 + poppel02_between, "#f5b400", "square-open", 6, "c1", 3),
    ("Poppel01_1", poppel01 + poppel01_between, "#3f8a0a", "circle-open", 6, "c1", 2),
    ("Poppel03_1", poppel03, "#1515c8", "circle", 4, "c1", 1),
]

fig = go.Figure()
for name, readings, color, symbol, msize, group, rank in series:
    dates, heads = zip(*sorted(readings))
    trace = dict(
        x=list(dates), y=list(heads), name=name,
        line=dict(color=color, width=1),
        legendgroup=group, legendrank=rank,
    )
    if symbol is None:
        trace["mode"] = "lines"
    else:
        trace["mode"] = "lines+markers"
        trace["marker"] = dict(symbol=symbol, size=msize, color=color,
                               line=dict(color=color, width=1.2))
    fig.add_trace(go.Scatter(**trace))

# plot area spans x 97..980 px and y 40..707 px of the 1026 x 801 page
L, R, T, B = 97, 46, 40, 94
PW, PH = 1026 - L - R, 801 - T - B


def px(x):
    return (x - L) / PW


def py(y):
    return (T + PH - y) / PH


shapes = [
    # legend frame
    dict(type="rect", xref="paper", yref="paper",
         x0=px(442), x1=px(979), y0=py(72), y1=py(12),
         line=dict(color="#222222", width=1), fillcolor="rgba(0,0,0,0)"),
    # page frame
    dict(type="line", xref="paper", yref="paper",
         x0=px(-20), x1=px(1040), y0=py(12), y1=py(12),
         line=dict(color="#4f7fc4", width=2.5)),
    dict(type="line", xref="paper", yref="paper",
         x0=px(8), x1=px(8), y0=py(12), y1=py(820),
         line=dict(color="#4f7fc4", width=2.5)),
]

fig.update_layout(
    width=1026, height=801,
    margin=dict(l=L, r=R, t=T, b=B, autoexpand=False),
    paper_bgcolor="white", plot_bgcolor="white",
    font=dict(family=FONT, color="#222222"),
    showlegend=True,
    legend=dict(
        orientation="h", traceorder="grouped",
        x=px(450), y=py(0.5), xanchor="left", yanchor="top",
        itemwidth=37, entrywidth=124, entrywidthmode="pixels",
        tracegroupgap=0,
        bgcolor="rgba(0,0,0,0)", borderwidth=0,
        font=dict(family=FONT, size=12, color="#333333"),
    ),
    shapes=shapes,
    annotations=[
        dict(text="H (m+NAP)", xref="paper", yref="paper",
             x=px(18), y=0.5, textangle=-90, showarrow=False,
             xanchor="center", yanchor="middle",
             font=dict(family=FONT, size=13, color="#333333")),
    ],
)

fig.update_xaxes(
    type="date", range=[x_tick_dates[0], x_tick_dates[-1]],
    tickvals=x_tick_dates, tickformat="%d/%m/%y", tickangle=-90,
    ticks="outside", ticklen=6, tickcolor="#333333",
    ticklabelstandoff=8,
    tickfont=dict(family=FONT, size=14, color="#555555"),
    showline=True, linecolor="#333333", linewidth=1.5,
    showgrid=False, zeroline=False,
)
fig.update_yaxes(
    range=[12.0, 17.5], tickvals=y_ticks, tickformat=".1f",
    ticks="outside", ticklen=9, tickcolor="#222222",
    ticklabelstandoff=4,
    tickfont=dict(family=FONT, size=14, color="#222222"),
    showline=True, linecolor="#333333", linewidth=1.5,
    showgrid=False, zeroline=False,
)

fig.write_html("out.html")
